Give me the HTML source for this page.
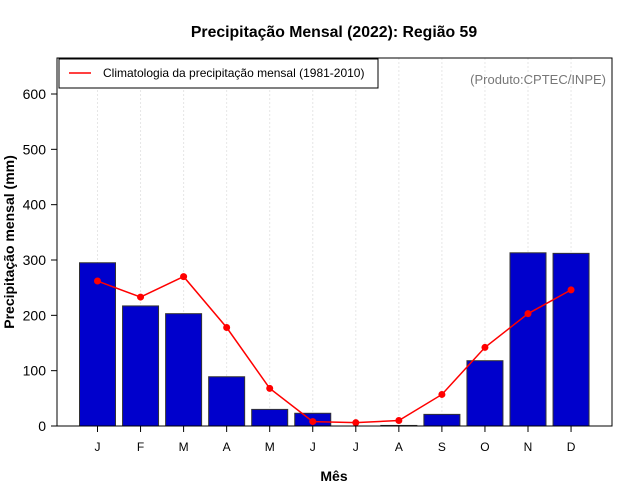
<!DOCTYPE html>
<html><head><meta charset="utf-8"><style>
body{margin:0;background:#fff}
svg{display:block;font-family:"Liberation Sans",sans-serif}
</style></head><body>
<svg id="chart" width="640" height="500">
<text x="334" y="37" text-anchor="middle" font-size="15.8" font-weight="bold">Precipitação Mensal (2022): Região 59</text>
<g id="grid"></g>
<g id="bars"></g>
<g id="line"></g>
<g id="axes"></g>
<rect x="57" y="58" width="555" height="368" fill="none" stroke="#000" stroke-width="1"/>
<g>
<rect x="59" y="59" width="319" height="29" fill="#fff" stroke="#000" stroke-width="1"/>
<line x1="69" y1="73" x2="91" y2="73" stroke="red" stroke-width="1.5"/>
<text x="103" y="77" font-size="12">Climatologia da precipitação mensal (1981-2010)</text>
</g>
<text x="606" y="84" text-anchor="end" font-size="13" fill="#777">(Produto:CPTEC/INPE)</text>
<text x="334" y="481" text-anchor="middle" font-size="14" font-weight="bold">Mês</text>
<text transform="translate(14,242) rotate(-90)" text-anchor="middle" font-size="14" font-weight="bold">Precipitação mensal (mm)</text>
</svg>
<script>
const months=["J","F","M","A","M","J","J","A","S","O","N","D"];
const observed=[295,217,203,89,30,23,0,1,21,118,313,312];
const climatology=[262,233,270,178,68,8,6,10,57,142,203,246];
const yTicks=[0,100,200,300,400,500,600];
const NS="http://www.w3.org/2000/svg";
const y0=426, yScale=(426-94)/600;
function yPos(v){return y0-v*yScale;}
function xPos(i){return 97.5+i*43.05;}
function mk(tag,attrs,parent){const e=document.createElementNS(NS,tag);for(const k in attrs)e.setAttribute(k,attrs[k]);parent.appendChild(e);return e;}
const grid=document.getElementById('grid'),bars=document.getElementById('bars'),line=document.getElementById('line'),axes=document.getElementById('axes');
months.forEach((m,i)=>{
  const g=mk('line',{x1:xPos(i),x2:xPos(i),y1:58,y2:426,stroke:'#e6e6e6','stroke-dasharray':'2,2'},grid);
  
  
  const h=observed[i]*yScale;
  const b=mk('rect',{x:xPos(i)-18,y:y0-h,width:36,height:h,fill:'#0000cc',stroke:'#333','stroke-width':1},bars);
  
  
  const t=mk('line',{x1:xPos(i),x2:xPos(i),y1:426,y2:432,stroke:'#000'},axes);
  
  
  const l=mk('text',{x:xPos(i),y:451,'text-anchor':'middle','font-size':12},axes);
  l.textContent=m;
  
  
});
const pl=mk('polyline',{points:climatology.map((v,i)=>xPos(i)+','+yPos(v)).join(' '),fill:'none',stroke:'red','stroke-width':1.5},line);


climatology.forEach((v,i)=>{
  const c=mk('circle',{cx:xPos(i),cy:yPos(v),r:3.5,fill:'red'},line);
  
  
});
yTicks.forEach(v=>{
  const t=mk('line',{x1:51,x2:57,y1:yPos(v),y2:yPos(v),stroke:'#000'},axes);
  
  
  const l=mk('text',{x:46,y:yPos(v)+5,'text-anchor':'end','font-size':14},axes);
  l.textContent=v;
  
  
});
</script>
</body></html>
